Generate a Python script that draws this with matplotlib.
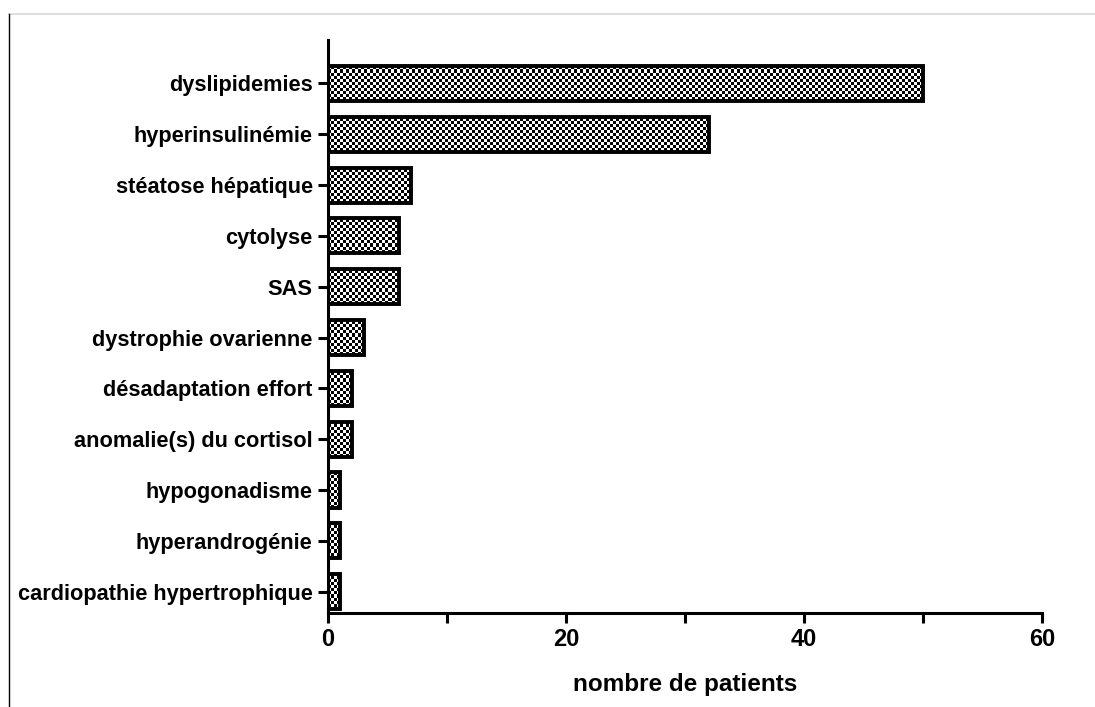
import numpy as np
import matplotlib.pyplot as plt
from matplotlib.lines import Line2D

# Data (top to bottom as displayed)
categories = ['dyslipidemies', 'hyperinsulinémie', 'stéatose hépatique', 'cytolyse', 'SAS',
              'dystrophie ovarienne', 'désadaptation effort', 'anomalie(s) du cortisol',
              'hypogonadisme', 'hyperandrogénie', 'cardiopathie hypertrophique']
patients = [50, 32, 7, 6, 6, 3, 2, 2, 1, 1, 1]
x_ticks = [0, 20, 40, 60]
x_label = 'nombre de patients'

plt.rcParams['font.family'] = ['Liberation Sans', 'DejaVu Sans']
plt.rcParams['font.weight'] = 'bold'

fig = plt.figure(figsize=(10.95, 7.07), dpi=100)
ax = fig.add_axes([0.2995, 0.133, 0.6521, 0.810])

n = len(categories)
ypos = np.arange(n)[::-1]
ylo, yhi = -0.42, n - 1 + 0.85
bars = ax.barh(ypos, patients, height=0.69, facecolor='none', edgecolor='black',
               linewidth=2.8, zorder=3)

# checkerboard texture (about 3 px cells) clipped into each bar
ny, nx = 191, 238
checker = (np.indices((ny, nx)).sum(axis=0) % 2).astype(float)
for b in bars:
    im = ax.imshow(checker, cmap='gray', extent=(0, 60, ylo, yhi),
                   interpolation='nearest', aspect='auto', zorder=2)
    im.set_clip_path(b)
ax.set_xlim(0, 60)
ax.set_ylim(ylo, yhi)

ax.set_yticks(ypos)
ax.set_yticklabels(categories, fontsize=15.7, fontweight='bold')
ax.set_xticks(x_ticks)
ax.set_xticklabels([str(t) for t in x_ticks], fontsize=17, fontweight='bold')
ax.set_xticks([10, 30, 50], minor=True)
ax.set_xlabel(x_label, fontsize=17.5, fontweight='bold', labelpad=16)

for s in ['top', 'right']:
    ax.spines[s].set_visible(False)
for s in ['left', 'bottom']:
    ax.spines[s].set_linewidth(2.2)
ax.tick_params(axis='both', which='major', length=7, width=2.2, direction='out', pad=4)
ax.tick_params(axis='x', which='minor', length=7, width=2.2, direction='out')
ax.tick_params(axis='y', which='minor', left=False)

# frame remnants of the original export
fig.add_artist(Line2D([9 / 1095, 1], [1 - 14 / 707, 1 - 14 / 707], color='#d9d9d9', lw=1.2))
fig.add_artist(Line2D([9 / 1095, 9 / 1095], [0, 1 - 14 / 707], color='black', lw=1.0))

fig.savefig('out.png', dpi=100)
